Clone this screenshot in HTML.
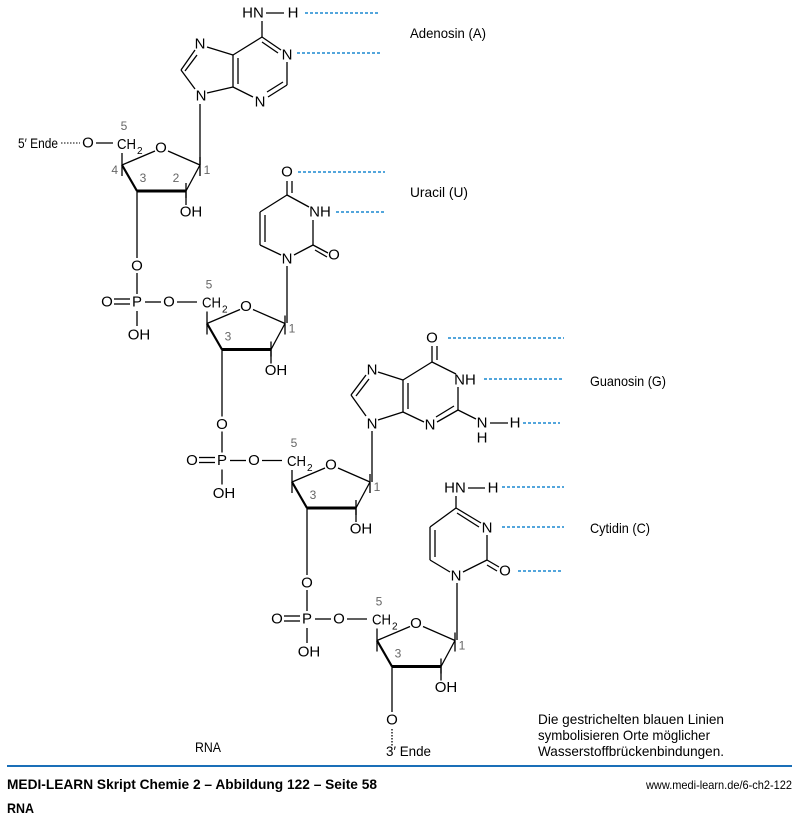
<!DOCTYPE html>
<html><head><meta charset="utf-8"><style>
html,body{margin:0;padding:0;background:#fff;}
svg{display:block;}
text{font-family:"Liberation Sans",sans-serif;fill:#000;}
.a{font-size:15px;text-anchor:middle;dominant-baseline:central;}
.g{font-size:12px;fill:#666;text-anchor:middle;}
.l{font-size:14px;}
</style></head><body>
<svg width="800" height="820" viewBox="0 0 800 820" xmlns="http://www.w3.org/2000/svg">
<defs>
<g id="unit">
  <text x="124" y="130" class="g">5</text>
  <text x="117" y="149" style="font-size:15px" textLength="19" lengthAdjust="spacingAndGlyphs">CH</text><text x="137" y="154" style="font-size:10px">2</text>
  <g stroke="#000" stroke-width="1.3" fill="none">
    <line x1="122" y1="153" x2="122" y2="176"/>
    <line x1="122" y1="165" x2="155" y2="151"/>
    <line x1="168" y1="151" x2="200" y2="165"/>
    <line x1="200" y1="157" x2="200" y2="176"/>
    <line x1="200" y1="165" x2="186" y2="191"/>
    <line x1="186" y1="183" x2="186" y2="198"/>
    <line x1="122" y1="165" x2="137" y2="191" stroke-width="2.2"/>
    <line x1="137" y1="191" x2="186" y2="191" stroke-width="3"/>
    <line x1="186" y1="191" x2="186" y2="205"/>
  </g>
  <text x="161" y="148" class="a">O</text>
  <text x="143" y="182" class="g">3</text>
  <text x="207" y="174" class="g">1</text>
  <text x="191" y="212" class="a">OH</text>
</g>
<g id="phos">
  <g stroke="#000" stroke-width="1.3" fill="none">
    <line x1="137" y1="191" x2="137" y2="258"/>
    <line x1="137" y1="273" x2="137" y2="294"/>
    <line x1="137" y1="311" x2="137" y2="326"/>
    <line x1="114" y1="299" x2="130" y2="299"/>
    <line x1="114" y1="304" x2="130" y2="304"/>
    <line x1="145" y1="302" x2="161" y2="302"/>
    <line x1="177" y1="302" x2="197" y2="302"/>
  </g>
  <text x="137" y="266" class="a">O</text>
  <text x="137" y="302" class="a">P</text>
  <text x="107" y="302" class="a">O</text>
  <text x="169" y="302" class="a">O</text>
  <text x="139" y="335" class="a">OH</text>
</g>
</defs>

<use href="#unit"/>
<text x="118" y="174" class="g" style="text-anchor:end">4</text>
<text x="176" y="182" class="g">2</text>
<text x="18" y="148" class="l" textLength="40" lengthAdjust="spacingAndGlyphs">5′ Ende</text>
<line x1="61" y1="143" x2="80" y2="143" stroke="#000" stroke-dasharray="1.5,1.5"/>
<text x="88" y="143" class="a">O</text>
<line x1="96" y1="143" x2="113" y2="143" stroke="#000" stroke-width="1.3"/>
<use href="#phos"/>
<g transform="translate(85,158.5)"><use href="#unit"/><use href="#phos"/></g>
<g transform="translate(170,317)"><use href="#unit"/><use href="#phos"/></g>
<g transform="translate(255,475.5)"><use href="#unit"/></g>
<g stroke="#000" stroke-width="1.3" fill="none">
  <line x1="392" y1="666" x2="392" y2="712"/>
  <line x1="392" y1="729" x2="392" y2="746" stroke-dasharray="1.5,1.5"/>
</g>
<text x="392" y="720" class="a">O</text>
<text x="386" y="756" class="l" textLength="45" lengthAdjust="spacingAndGlyphs">3′ Ende</text>

<g stroke="#000" stroke-width="1.3" fill="none">
  <line x1="200" y1="165" x2="200" y2="104"/>
  <line x1="287" y1="323" x2="287" y2="266"/>
  <line x1="372" y1="482" x2="372" y2="431"/>
  <line x1="457" y1="640" x2="457" y2="583"/>
  <line x1="195" y1="89" x2="181" y2="70"/>
  <line x1="181" y1="70" x2="195" y2="50"/><line x1="185" y1="71" x2="197" y2="55"/>
  <line x1="207" y1="47" x2="233" y2="55"/>
  <line x1="233" y1="55" x2="233" y2="87"/><line x1="238" y1="58" x2="238" y2="84"/>
  <line x1="207" y1="93" x2="233" y2="87"/>
  <line x1="233" y1="55" x2="262" y2="37"/>
  <line x1="262" y1="37" x2="281" y2="50"/><line x1="262" y1="42" x2="278" y2="53"/>
  <line x1="287" y1="62" x2="287" y2="85"/>
  <line x1="287" y1="85" x2="268" y2="97"/><line x1="283" y1="82" x2="267" y2="92"/>
  <line x1="253" y1="97" x2="233" y2="87"/>
  <line x1="262" y1="37" x2="262" y2="21"/>
  <line x1="266" y1="13" x2="284" y2="13"/>
  <line x1="287" y1="181" x2="287" y2="195"/><line x1="292" y1="181" x2="292" y2="193"/>
  <line x1="287" y1="195" x2="309" y2="207"/>
  <line x1="313" y1="220" x2="313" y2="245"/>
  <line x1="313" y1="245" x2="328" y2="253"/><line x1="315" y1="250" x2="327" y2="257"/>
  <line x1="313" y1="245" x2="294" y2="255"/>
  <line x1="281" y1="255" x2="260" y2="245"/>
  <line x1="260" y1="245" x2="260" y2="212"/><line x1="265" y1="242" x2="265" y2="215"/>
  <line x1="260" y1="212" x2="287" y2="195"/>
  <line x1="432" y1="346" x2="432" y2="362"/><line x1="437" y1="346" x2="437" y2="360"/>
  <line x1="432" y1="362" x2="456" y2="374"/>
  <line x1="458" y1="387" x2="458" y2="410"/>
  <line x1="458" y1="410" x2="437" y2="422"/><line x1="454" y1="406" x2="436" y2="417"/>
  <line x1="424" y1="422" x2="403" y2="412"/>
  <line x1="403" y1="412" x2="403" y2="380"/><line x1="408" y1="409" x2="408" y2="383"/>
  <line x1="403" y1="380" x2="432" y2="362"/>
  <line x1="403" y1="380" x2="378" y2="372"/>
  <line x1="366" y1="375" x2="351" y2="395"/><line x1="369" y1="379" x2="356" y2="396"/>
  <line x1="351" y1="395" x2="366" y2="416"/>
  <line x1="378" y1="420" x2="403" y2="412"/>
  <line x1="458" y1="410" x2="476" y2="419"/>
  <line x1="490" y1="423" x2="508" y2="423"/>
  <line x1="456" y1="496" x2="456" y2="508"/>
  <line x1="456" y1="508" x2="481" y2="523"/><line x1="457" y1="513" x2="479" y2="527"/>
  <line x1="487" y1="535" x2="487" y2="560"/>
  <line x1="487" y1="560" x2="499" y2="567"/><line x1="487" y1="565" x2="497" y2="571"/>
  <line x1="487" y1="560" x2="463" y2="572"/>
  <line x1="450" y1="572" x2="430" y2="560"/>
  <line x1="430" y1="560" x2="430" y2="527"/><line x1="435" y1="557" x2="435" y2="530"/>
  <line x1="430" y1="527" x2="456" y2="508"/>
  <line x1="468" y1="488" x2="485" y2="488"/>
</g>
<text x="253" y="13" class="a">HN</text><text x="293" y="13" class="a">H</text>
<text x="200" y="44" class="a">N</text><text x="287" y="55" class="a">N</text>
<text x="260" y="102" class="a">N</text><text x="201" y="96" class="a">N</text>
<text x="287" y="172" class="a">O</text><text x="320" y="212" class="a">NH</text>
<text x="334" y="255" class="a">O</text><text x="287" y="259" class="a">N</text>
<text x="432" y="338" class="a">O</text><text x="465" y="380" class="a">NH</text>
<text x="482" y="423" class="a">N</text><text x="482" y="438" class="a">H</text><text x="515" y="423" class="a">H</text>
<text x="430" y="425" class="a">N</text><text x="372" y="370" class="a">N</text><text x="372" y="424" class="a">N</text>
<text x="455" y="488" class="a">HN</text><text x="493" y="488" class="a">H</text>
<text x="487" y="528" class="a">N</text><text x="505" y="571" class="a">O</text><text x="456" y="576" class="a">N</text>
<g stroke="#1a88d0" stroke-width="1.6" stroke-dasharray="3,2">
  <line x1="305" y1="13" x2="380" y2="13"/><line x1="297" y1="53" x2="380" y2="53"/>
  <line x1="298" y1="172" x2="385" y2="172"/><line x1="336" y1="212" x2="385" y2="212"/>
  <line x1="448" y1="338" x2="564" y2="338"/><line x1="484" y1="379" x2="564" y2="379"/>
  <line x1="523" y1="423" x2="560" y2="423"/>
  <line x1="502" y1="487" x2="564" y2="487"/><line x1="502" y1="527" x2="564" y2="527"/>
  <line x1="518" y1="571" x2="561" y2="571"/>
</g>
<text x="410" y="38" class="l" textLength="76" lengthAdjust="spacingAndGlyphs">Adenosin (A)</text>
<text x="410" y="197" class="l" textLength="58" lengthAdjust="spacingAndGlyphs">Uracil (U)</text>
<text x="590" y="386" class="l" textLength="76" lengthAdjust="spacingAndGlyphs">Guanosin (G)</text>
<text x="590" y="533" class="l" textLength="60" lengthAdjust="spacingAndGlyphs">Cytidin (C)</text>
<text x="195" y="752" class="l" textLength="26" lengthAdjust="spacingAndGlyphs">RNA</text>
<text x="538" y="724" class="l" textLength="186" lengthAdjust="spacingAndGlyphs">Die gestrichelten blauen Linien</text>
<text x="538" y="740" class="l" textLength="172" lengthAdjust="spacingAndGlyphs">symbolisieren Orte möglicher</text>
<text x="538" y="756" class="l" textLength="186" lengthAdjust="spacingAndGlyphs">Wasserstoffbrückenbindungen.</text>
<line x1="7" y1="766" x2="792" y2="766" stroke="#1a6fb8" stroke-width="2"/>
<text x="7" y="789" style="font-size:14px;font-weight:bold" textLength="370" lengthAdjust="spacingAndGlyphs">MEDI-LEARN Skript Chemie 2 – Abbildung 122 – Seite 58</text>
<text x="7" y="813" style="font-size:14px;font-weight:bold" textLength="27" lengthAdjust="spacingAndGlyphs">RNA</text>
<text x="792" y="789" style="font-size:12px;text-anchor:end" textLength="146" lengthAdjust="spacingAndGlyphs">www.medi-learn.de/6-ch2-122</text>
</svg>
</body></html>
